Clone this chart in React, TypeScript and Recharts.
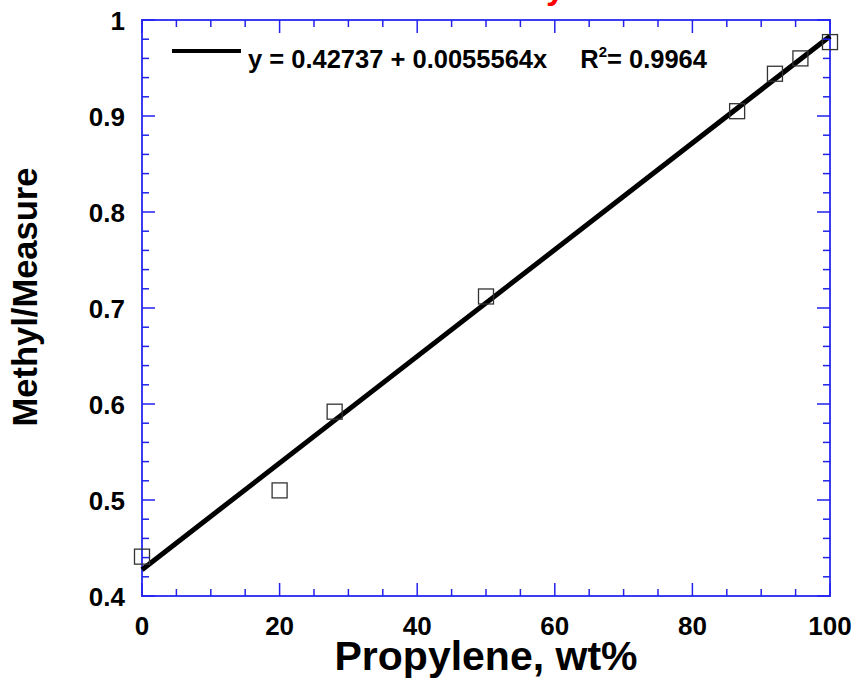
import React from 'react'
import {
  ComposedChart, Scatter, Line, XAxis, YAxis, ReferenceArea, Customized
} from 'recharts'

// measured points
const propylene = [0, 20, 28, 50, 86.5, 92, 95.7, 100]
const methylRatio = [0.441, 0.51, 0.592, 0.712, 0.905, 0.944, 0.96, 0.977]

// fit line end points
const fitX = [0, 100]
const fitY = [0.4274, 0.983]

const xTicks = [0, 5, 10, 15, 20, 25, 30, 35, 40, 45, 50, 55, 60, 65, 70, 75, 80, 85, 90, 95, 100]
const yTicks = [
  0.4, 0.42, 0.44, 0.46, 0.48, 0.5, 0.52, 0.54, 0.56, 0.58, 0.6, 0.62, 0.64, 0.66, 0.68,
  0.7, 0.72, 0.74, 0.76, 0.78, 0.8, 0.82, 0.84, 0.86, 0.88, 0.9, 0.92, 0.94, 0.96, 0.98, 1,
]

const title = 'Calibration Curve by'
const legendText = 'y = 0.42737 + 0.0055564x'
const r2Text = '= 0.9964'
const xLabel = 'Propylene, wt%'
const yLabel = 'Methyl/Measure'

const FONT = '"Liberation Sans", Arial, Helvetica, sans-serif'
const AXIS_BLUE = '#3c3cf5'
const TICK_BLUE = '#2222ee'

const W = 855
const H = 680
const PLOT_LEFT = 142
const PLOT_RIGHT = 830
const PLOT_TOP = 20
const PLOT_BOTTOM = 596

const points = propylene.map((x, i) => ({ x, y: methylRatio[i] }))
const fit = fitX.map((x, i) => ({ x, y: fitY[i] }))

function XTick({ x, payload }: { x?: number; y?: number; payload?: { value: number } }) {
  if (!payload || x == null) return null
  const v = payload.value
  const major = v % 20 === 0
  const len = major ? 13 : 7
  return (
    <g>
      <line x1={x} x2={x} y1={PLOT_BOTTOM} y2={PLOT_BOTTOM - len} stroke={TICK_BLUE} strokeWidth={1.5} />
      <line x1={x} x2={x} y1={PLOT_TOP} y2={PLOT_TOP + len} stroke={TICK_BLUE} strokeWidth={1.5} />
      {major && (
        <text x={x} y={635} textAnchor="middle" fontFamily={FONT} fontWeight="bold" fontSize={26} fill="#000">
          {v}
        </text>
      )}
    </g>
  )
}

function YTick({ y, payload }: { x?: number; y?: number; payload?: { value: number } }) {
  if (!payload || y == null) return null
  const v = payload.value
  const major = Math.abs(v * 10 - Math.round(v * 10)) < 1e-6
  const len = major ? 13 : 7
  return (
    <g>
      <line x1={PLOT_LEFT} x2={PLOT_LEFT + len} y1={y} y2={y} stroke={TICK_BLUE} strokeWidth={1.5} />
      <line x1={PLOT_RIGHT} x2={PLOT_RIGHT - len} y1={y} y2={y} stroke={TICK_BLUE} strokeWidth={1.5} />
      {major && (
        <text x={125} y={y + 9.5} textAnchor="end" fontFamily={FONT} fontWeight="bold" fontSize={26} fill="#000">
          {String(Math.round(v * 10) / 10)}
        </text>
      )}
    </g>
  )
}

function SquareMark(props: any) {
  const { cx, cy } = props
  if (cx == null || cy == null) return null
  return <rect x={cx - 7.5} y={cy - 7.5} width={15} height={15} fill="none" stroke="#333" strokeWidth={1.3} />
}

function Decorations() {
  return (
    <g fontFamily={FONT} fontWeight="bold">
      {/* title sits above the page edge, only the tail of the y shows */}
      <text x={565} y={-1} textAnchor="end" fill="#ff0000" fontSize={34}>{title}</text>
      <line x1={172} x2={241} y1={51} y2={51} stroke="#000" strokeWidth={4} />
      <text x={248} y={68} fontSize={25.5} fill="#000">
        {legendText}
        <tspan dx={33}>R</tspan>
        <tspan dy={-11} fontSize={15}>2</tspan>
        <tspan dy={11}>{r2Text}</tspan>
      </text>
      <text x={486} y={670} textAnchor="middle" fontSize={41} fill="#000">{xLabel}</text>
      <text
        x={0}
        y={0}
        transform="translate(37, 297) rotate(-90)"
        textAnchor="middle"
        fontSize={34.5}
        fill="#000"
      >
        {yLabel}
      </text>
    </g>
  )
}

export default function App() {
  return (
    <div style={{ position: 'absolute', left: 0, top: 0, width: W, height: H, background: '#fff' }}>
      <ComposedChart width={W} height={H} margin={{ top: PLOT_TOP, right: W - PLOT_RIGHT, left: 0, bottom: 0 }}>
        <XAxis
          dataKey="x"
          type="number"
          domain={[0, 100]}
          ticks={xTicks}
          interval={0}
          height={H - PLOT_BOTTOM}
          tickLine={false}
          axisLine={false}
          tick={<XTick />}
        />
        <YAxis
          dataKey="y"
          type="number"
          domain={[0.4, 1]}
          ticks={yTicks}
          interval={0}
          width={PLOT_LEFT}
          tickLine={false}
          axisLine={false}
          tick={<YTick />}
        />
        <ReferenceArea x1={0} x2={100} y1={0.4} y2={1} fill="none" stroke={AXIS_BLUE} strokeWidth={2} />
        <Scatter data={points} dataKey="y" shape={<SquareMark />} isAnimationActive={false} />
        <Line data={fit} dataKey="y" stroke="#000" strokeWidth={5} dot={false} isAnimationActive={false} />
        <Customized component={<Decorations />} />
      </ComposedChart>
    </div>
  )
}
